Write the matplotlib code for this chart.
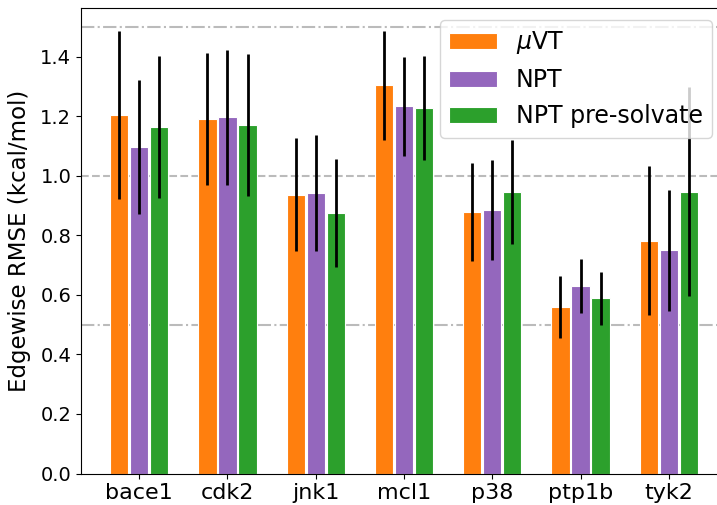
import matplotlib
matplotlib.use("Agg")
import matplotlib.pyplot as plt
import numpy as np

systems = ["bace1", "cdk2", "jnk1", "mcl1", "p38", "ptp1b", "tyk2"]
labels = [r"$\mu$VT", "NPT", "NPT pre-solvate"]
muvt = [1.204, 1.191, 0.937, 1.304, 0.879, 0.560, 0.782]
muvt_err = [0.282, 0.223, 0.190, 0.183, 0.165, 0.105, 0.250]
npt = [1.097, 1.197, 0.943, 1.234, 0.884, 0.629, 0.750]
npt_err = [0.224, 0.227, 0.195, 0.166, 0.168, 0.091, 0.204]
pre = [1.165, 1.171, 0.875, 1.228, 0.945, 0.588, 0.947]
pre_err = [0.239, 0.240, 0.180, 0.175, 0.174, 0.088, 0.350]
colors = ["#ff7f0e", "#9467bd", "#2ca02c"]

fig = plt.figure(figsize=(7.17, 5.05), dpi=100)
ax = fig.add_axes([81/717, 31.5/505, (727-81)/717, (473.5-8)/505])

x = np.arange(len(systems))
width = 0.205
step = 0.227
for i, (vals, errs) in enumerate([(muvt, muvt_err), (npt, npt_err), (pre, pre_err)]):
    ax.bar(x + (i - 1) * step, vals, width, color=colors[i], edgecolor="white",
           linewidth=0.8, label=labels[i], zorder=2)
    ax.errorbar(x + (i - 1) * step, vals, yerr=errs, fmt="none", ecolor="black",
                elinewidth=2, capsize=0, zorder=3)

ax.axhline(1.5, color="#bbbbbb", linestyle="-.", linewidth=1.5, zorder=1)
ax.axhline(1.0, color="#bbbbbb", linestyle="--", linewidth=1.5, zorder=1)
ax.axhline(0.5, color="#bbbbbb", linestyle="-.", linewidth=1.5, zorder=1)

ax.set_xlim(-0.66, 6.66)
ax.set_ylim(0, 1.564)
ax.set_xticks(x)
ax.set_xticklabels(systems, fontsize=16)
ax.set_yticks(np.arange(0, 1.41, 0.2))
ax.tick_params(axis="y", labelsize=14)
ax.set_ylabel("Edgewise RMSE (kcal/mol)", fontsize=16.5, labelpad=7)
ax.legend(loc="upper right", fontsize=17, borderaxespad=0,
          bbox_to_anchor=(712/717, (505-20)/505), bbox_transform=fig.transFigure)

fig.savefig("out.png", dpi=100)
